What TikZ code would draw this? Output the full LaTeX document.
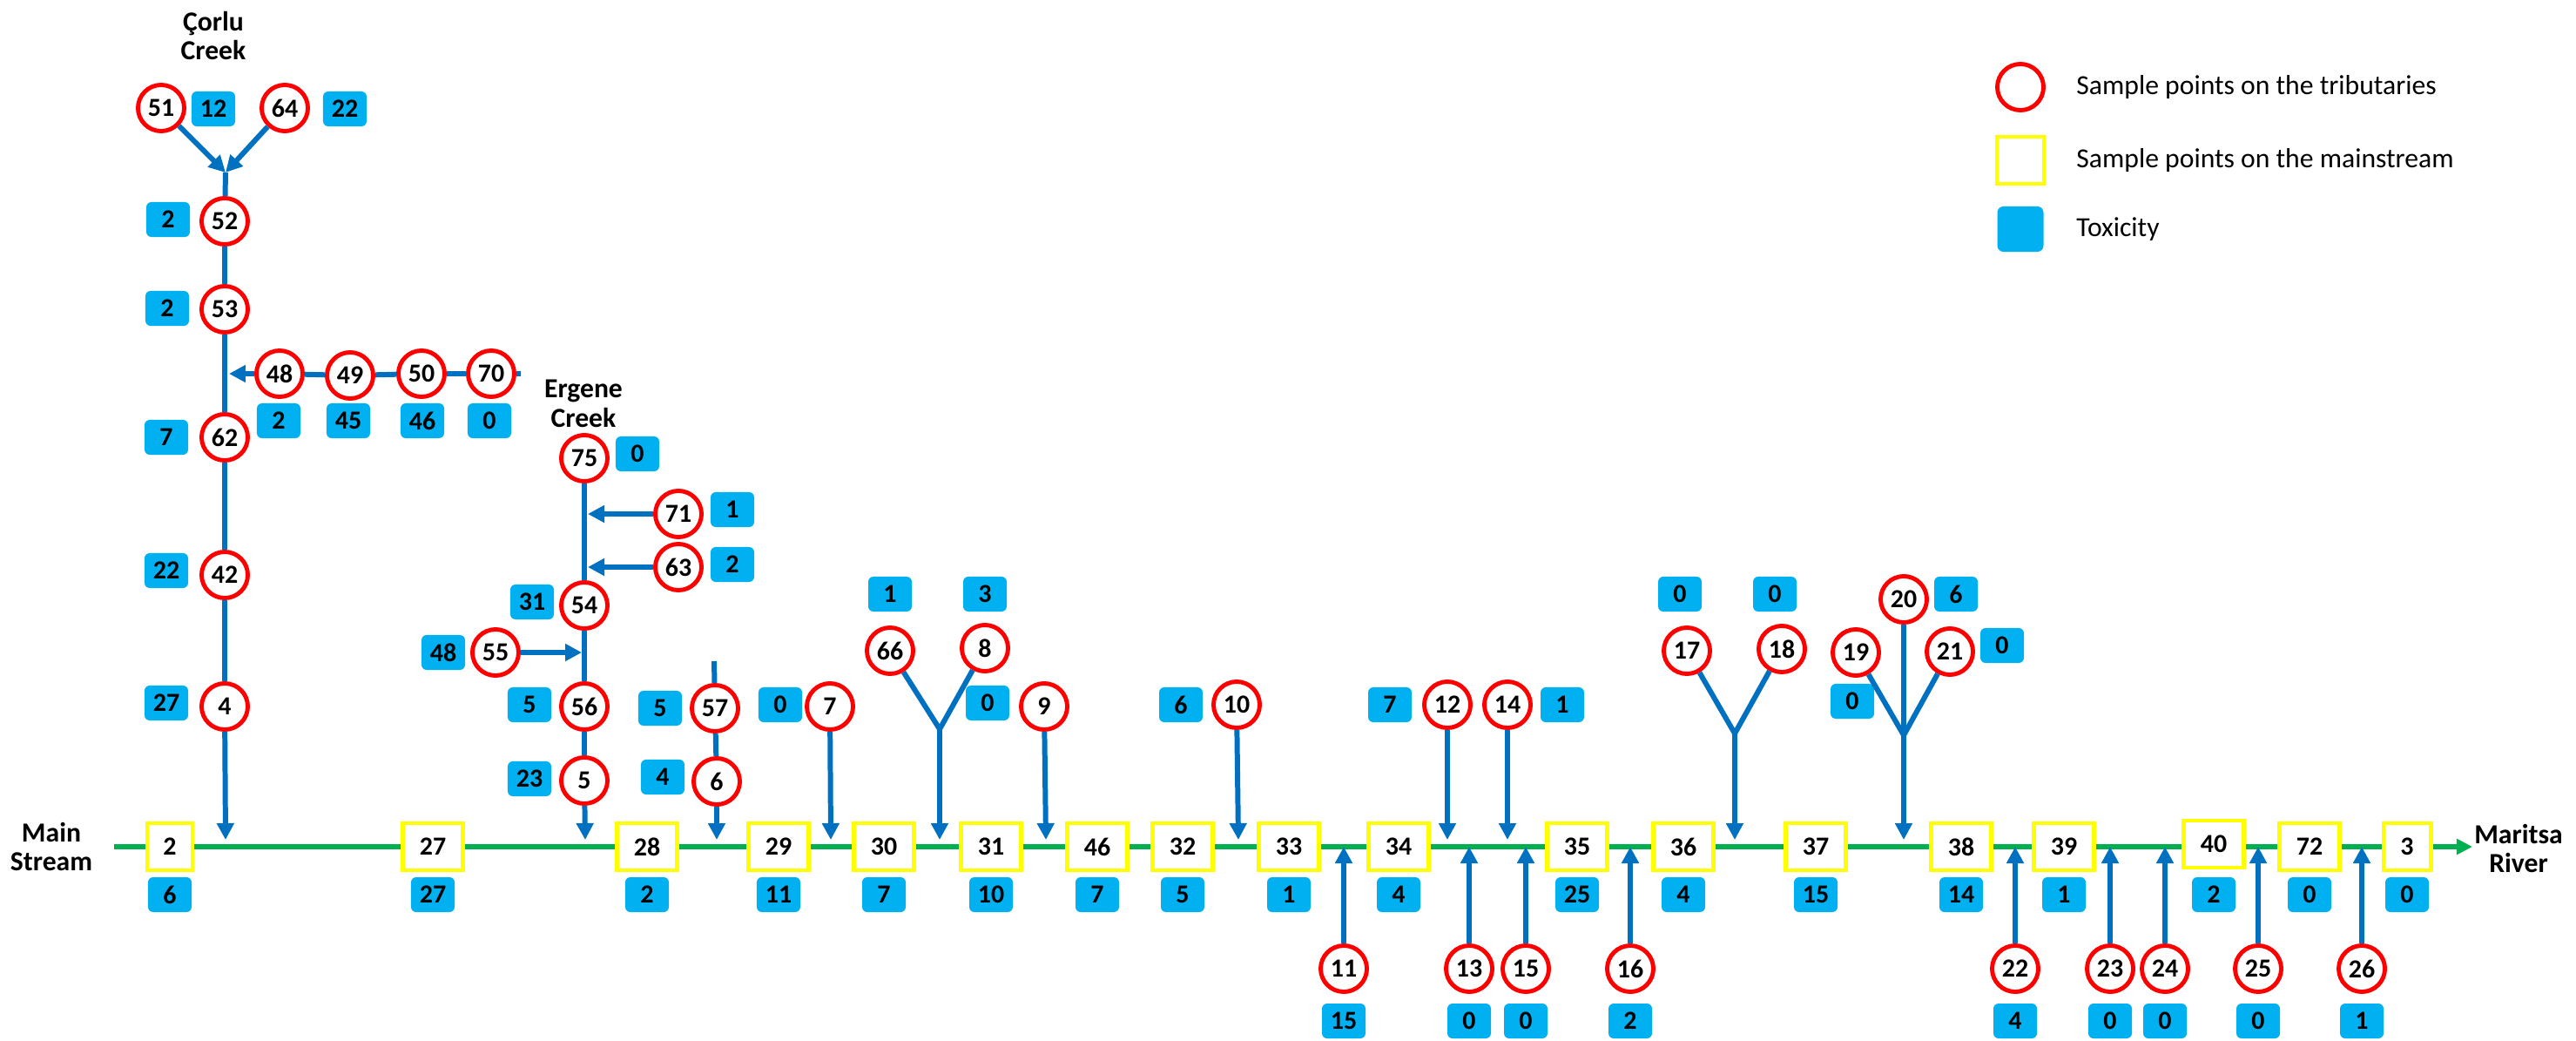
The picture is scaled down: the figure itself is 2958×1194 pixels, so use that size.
\documentclass[tikz,border=0pt]{standalone}
\usepackage{fontspec}
\setmainfont{Carlito}
\usetikzlibrary{arrows.meta}
\definecolor{flowblue}{HTML}{0070C0}
\definecolor{toxcyan}{HTML}{00B0F0}
\definecolor{streamgreen}{HTML}{00B050}
\definecolor{ptred}{HTML}{FF0000}
\definecolor{ptyellow}{HTML}{FFFF00}
\begin{document}
\begin{tikzpicture}[x=0.01cm, y=-0.01cm,
  numfont/.style={font={\fontsize{8.5}{9.4}\selectfont\bfseries}},
  trib/.style={circle, draw=ptred, line width=1.4pt, fill=white,
    minimum size=0.53cm, inner sep=0pt, numfont},
  mainpt/.style={rectangle, draw=ptyellow, line width=1.25pt, fill=white,
    minimum width=0.687cm, minimum height=0.537cm, inner sep=0pt, numfont},
  tox/.style={rectangle, rounded corners=1.7pt, fill=toxcyan,
    minimum width=0.50cm, minimum height=0.40cm, inner sep=0pt, numfont},
  link/.style={draw=flowblue, line width=1.7pt},
  flow/.style={link, -{Triangle[length=5.4pt,width=5.4pt]}},
  lbl/.style={align=center, font={\fontsize{9}{9.6}\selectfont\bfseries}},
  legtext/.style={anchor=west, font={\fontsize{9}{10}\selectfont}}]

\useasboundingbox (0,0) rectangle (2958,1194);

% main stream
\coordinate (ms-start) at (131,972);
\coordinate (ms-end) at (2839,972);
\draw[draw=streamgreen, line width=1.5pt, -{Triangle[length=5.2pt,width=5pt]}] (ms-start) -- (ms-end);
\node[lbl] (lbl-main) at (59,972) {Main\\Stream};
\node[lbl] (lbl-maritsa) at (2892,974) {Maritsa\\River};

% sample points on the main stream with toxicity below
\foreach \n/\x/\t in {27/497/27, 28/743/2, 29/894/11, 30/1015/7, 31/1138/10,
    46/1260/7, 32/1358/5, 33/1480/1, 34/1606/4, 35/1811/25, 36/1933/4,
    37/2085/15, 38/2252/14, 39/2370/1, 72/2652/0}{
  \node[mainpt] (m\n) at (\x,972) {\n};
  \node[tox] (k\n) at (\x,1027) {\t};
}
\node[mainpt, minimum width=0.515cm] (m2) at (195,972) {2};
\node[tox] (k2) at (195,1027) {6};
\node[mainpt] (m40) at (2542,969) {40};
\node[tox] (k40) at (2542,1027) {2};
\node[mainpt, minimum width=0.545cm] (m3) at (2764,972) {3};
\node[tox] (k3) at (2764,1027) {0};

% Corlu Creek
\node[lbl] (lbl-corlu) at (245,41) {Çorlu\\Creek};
\foreach \n/\x/\y/\t/\tx/\ty in {51/185/124/12/245/125, 64/327/124/22/396/125,
    52/258/254/2/193/252, 53/258/355/2/192/354, 62/258/502/7/191/502,
    42/258/660/22/191/655, 4/258/811/27/191/807,
    48/321/429/2/320/483, 49/402/431/45/400/483, 50/484/429/46/485/483,
    70/564/429/0/562/483}{
  \node[trib] (t\n) at (\x,\y) {\n};
  \node[tox] (k\n) at (\tx,\ty) {\t};
}
\coordinate (c-join) at (259,198);
\coordinate (c-side) at (263,429);
\coordinate (c-tail) at (598,429);
\coordinate (j4) at (259,964);
\draw[flow] (t51) -- (c-join);
\draw[flow] (t64) -- (c-join);
\draw[link] (c-join) -- (t52) -- (t53) -- (t62) -- (t42) -- (t4);
\draw[flow] (t4) -- (j4);
\draw[link] (c-tail) -- (t70) -- (t50) -- (t49) -- (t48);
\draw[flow] (t48) -- (c-side);

% Ergene Creek
\node[lbl] (lbl-ergene) at (670,463) {Ergene\\Creek};
\foreach \n/\x/\y/\t/\tx/\ty in {75/671/526/0/732/521, 71/779/590/1/841/585,
    63/779/651/2/841/648, 54/671/695/31/611/691, 55/569/749/48/509/749,
    56/671/811/5/608/809, 5/671/896/23/608/894,
    57/821/813/5/758/813, 6/823/897/4/761/892}{
  \node[trib] (t\n) at (\x,\y) {\n};
  \node[tox] (k\n) at (\tx,\ty) {\t};
}
\coordinate (e71) at (675,590);
\coordinate (e63) at (675,651);
\coordinate (e55) at (668,749);
\coordinate (j5) at (672,964);
\coordinate (s57) at (820,759);
\coordinate (j6) at (823,964);
\draw[link] (t75) -- (t54) -- (t56) -- (t5);
\draw[flow] (t71) -- (e71);
\draw[flow] (t63) -- (e63);
\draw[flow] (t55) -- (e55);
\draw[flow] (t5) -- (j5);
\draw[link] (s57) -- (t57) -- (t6);
\draw[flow] (t6) -- (j6);

% tributaries joining from above
\foreach \n/\x/\y/\t/\tx/\ty in {7/953/811/0/896/809, 66/1022/747/1/1022/682,
    8/1131/744/3/1131/682, 9/1199/811/0/1134/807, 10/1420/809/6/1356/809,
    12/1662/809/7/1596/809, 14/1731/809/1/1794/809,
    17/1937/747/0/1929/682, 18/2046/745/0/2038/682,
    19/2131/749/0/2127/805, 20/2186/688/6/2246/682, 21/2239/748/0/2299/741}{
  \node[trib] (t\n) at (\x,\y) {\n};
  \node[tox] (k\n) at (\tx,\ty) {\t};
}
\foreach \n/\x in {7/954, 9/1201, 10/1422, 12/1662, 14/1731}{
  \coordinate (j\n) at (\x,964);
  \draw[flow] (t\n) -- (j\n);
}
\coordinate (y30) at (1079,837);
\coordinate (j30) at (1079,964);
\draw[link] (t66) -- (y30);
\draw[link] (t8) -- (y30);
\draw[flow] (y30) -- (j30);
\coordinate (y36) at (1992,842);
\coordinate (j36) at (1992,964);
\draw[link] (t17) -- (y36);
\draw[link] (t18) -- (y36);
\draw[flow] (y36) -- (j36);
\coordinate (y37) at (2186,844);
\coordinate (j37) at (2186,964);
\draw[link] (t19) -- (y37);
\draw[link] (t21) -- (y37);
\draw[link] (t20) -- (y37);
\draw[flow] (y37) -- (j37);

% tributaries joining from below
\foreach \n/\x/\t in {11/1543/15, 13/1687/0, 15/1752/0, 16/1872/2, 22/2314/4,
    23/2423/0, 24/2486/0, 25/2593/0, 26/2712/1}{
  \node[trib] (t\n) at (\x,1112) {\n};
  \node[tox] (k\n) at (\x,1172) {\t};
  \coordinate (u\n) at (\x,972);
  \draw[flow] (t\n) -- (u\n);
}

% legend
\node[trib] (lg-trib) at (2320,100) {};
\node[mainpt, minimum width=0.537cm] (lg-main) at (2320,184) {};
\node[tox, rounded corners=2pt, minimum width=0.53cm, minimum height=0.52cm] (lg-tox) at (2320,263) {};
\node[legtext] (lg-trib-t) at (2372,100) {Sample points on the tributaries};
\node[legtext] (lg-main-t) at (2372,184) {Sample points on the mainstream};
\node[legtext] (lg-tox-t) at (2372,263) {Toxicity};
\end{tikzpicture}
\end{document}
